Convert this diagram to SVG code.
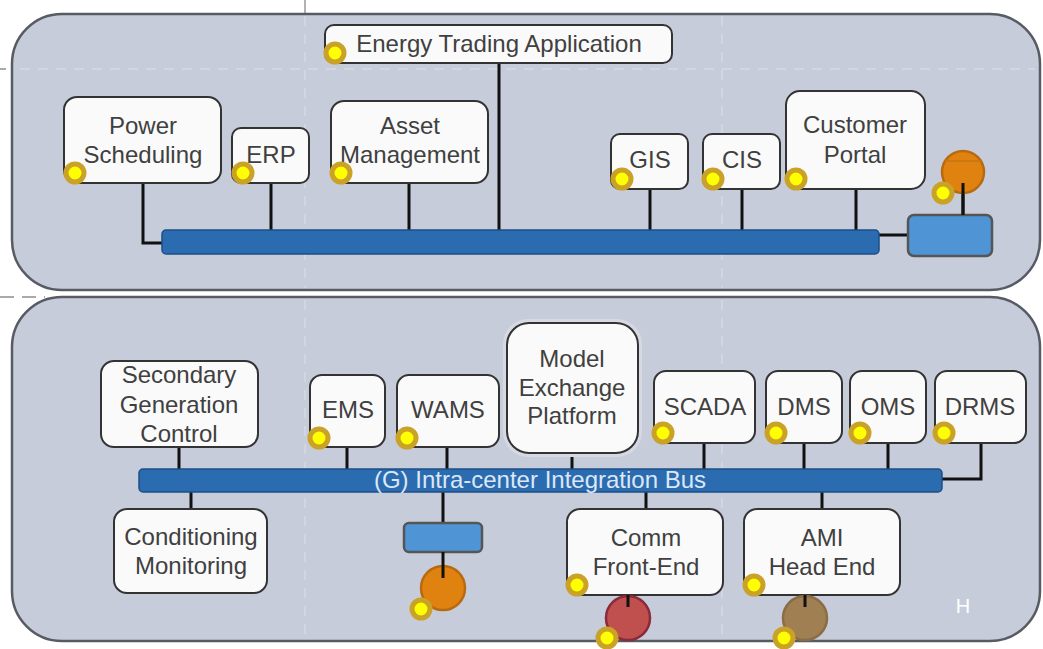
<svg xmlns="http://www.w3.org/2000/svg" width="1043" height="649" viewBox="0 0 1043 649">
<style>
.panel{fill:#c7ccda;stroke:#575b63;stroke-width:2.5}
.grid{stroke:#d5d9e3;stroke-width:1.5;stroke-dasharray:10 8;fill:none}
.node{fill:#fafafa;stroke:#333;stroke-width:2}
.t{font-family:"Liberation Sans",Arial,sans-serif;font-size:24px;fill:#404040;text-anchor:middle}
.bus{fill:#2b6cb0;stroke:#1d4f87;stroke-width:1.5}
.box{fill:#4f95d6;stroke:#555;stroke-width:2.5}
.wire{stroke:#111;stroke-width:3;fill:none}
.dot{fill:#ffff00;stroke:#c9a227;stroke-width:5}
</style>
<rect width="1043" height="649" fill="#ffffff"/>
<line x1="305" y1="0" x2="305" y2="14" stroke="#999" stroke-width="1.5"/>
<line x1="0" y1="297" x2="45" y2="297" stroke="#aaa" stroke-width="2" stroke-dasharray="14 8"/>
<line x1="0" y1="69" x2="6" y2="69" stroke="#aaa" stroke-width="2"/>
<g id="panel-top">
<rect class="panel" x="12" y="14" width="1028" height="276" rx="50"/>
<line class="grid" x1="20" y1="69" x2="1035" y2="69"/>
<line class="grid" x1="305" y1="16" x2="305" y2="288"/>
<line class="grid" x1="722" y1="16" x2="722" y2="288"/>
</g>
<g id="panel-bottom">
<rect class="panel" x="12" y="297" width="1028" height="344" rx="50"/>
<line class="grid" x1="305" y1="300" x2="305" y2="638"/>
<line class="grid" x1="722" y1="300" x2="722" y2="638"/>
</g>
<g id="connectors">
<path class="wire" d="M143 183V243H164"/>
<line class="wire" x1="271" y1="183" x2="271" y2="231"/>
<line class="wire" x1="409" y1="183" x2="409" y2="231"/>
<line class="wire" x1="499" y1="63" x2="499" y2="231"/>
<line class="wire" x1="650" y1="189" x2="650" y2="231"/>
<line class="wire" x1="742" y1="189" x2="742" y2="231"/>
<line class="wire" x1="856" y1="189" x2="856" y2="231"/>
<line class="wire" x1="878" y1="235" x2="908" y2="235"/>
<line class="wire" x1="963" y1="183" x2="963" y2="215"/>
<line class="wire" x1="179" y1="447" x2="179" y2="470"/>
<line class="wire" x1="191" y1="491" x2="191" y2="509"/>
<line class="wire" x1="347" y1="447" x2="347" y2="470"/>
<line class="wire" x1="447" y1="447" x2="447" y2="470"/>
<line class="wire" x1="572" y1="453" x2="572" y2="470"/>
<line class="wire" x1="704" y1="443" x2="704" y2="470"/>
<line class="wire" x1="804" y1="443" x2="804" y2="470"/>
<line class="wire" x1="888" y1="443" x2="888" y2="470"/>
<path class="wire" d="M981 443V479H941"/>
<line class="wire" x1="443" y1="491" x2="443" y2="523"/>
<line class="wire" x1="646" y1="491" x2="646" y2="509"/>
<line class="wire" x1="822" y1="491" x2="822" y2="509"/>
</g>
<g id="bus-top"><rect class="bus" x="162" y="230" width="717" height="24" rx="4"/></g>
<g id="node-energy-trading"><rect class="node" x="325" y="25" width="347" height="38" rx="9"/><text class="t" x="499" y="52">Energy Trading Application</text><circle class="dot" cx="335" cy="53" r="9"/></g>
<g id="node-power-scheduling"><rect class="node" x="64" y="97" width="157" height="86" rx="13"/><text class="t" x="143" y="134">Power</text><text class="t" x="143" y="163">Scheduling</text><circle class="dot" cx="75" cy="173" r="9"/></g>
<g id="node-erp"><rect class="node" x="232" y="128" width="77" height="55" rx="9"/><text class="t" x="271" y="163">ERP</text><circle class="dot" cx="243" cy="173" r="9"/></g>
<g id="node-asset"><rect class="node" x="331" y="101" width="157" height="82" rx="13"/><text class="t" x="410" y="134">Asset</text><text class="t" x="410" y="163">Management</text><circle class="dot" cx="341" cy="173" r="9"/></g>
<g id="node-gis"><rect class="node" x="611" y="134" width="77" height="55" rx="9"/><text class="t" x="650" y="168">GIS</text><circle class="dot" cx="622" cy="179" r="9"/></g>
<g id="node-cis"><rect class="node" x="703" y="134" width="77" height="55" rx="9"/><text class="t" x="742" y="168">CIS</text><circle class="dot" cx="713" cy="179" r="9"/></g>
<g id="node-customer-portal"><rect class="node" x="786" y="91" width="139" height="98" rx="14"/><text class="t" x="855" y="133">Customer</text><text class="t" x="855" y="163">Portal</text><circle class="dot" cx="796" cy="179" r="9"/></g>
<g id="node-top-gateway"><rect class="box" x="908" y="215" width="84" height="41" rx="6"/></g>
<g id="node-top-orange"><circle cx="963" cy="172" r="21" fill="#e0820f" stroke="#b86a10" stroke-width="2.5"/><line x1="945" y1="161" x2="981" y2="161" stroke="#c87512" stroke-width="1.5"/><line class="wire" x1="963" y1="183" x2="963" y2="215"/><circle class="dot" cx="943" cy="193" r="9"/></g>
<g id="bus-bottom"><rect class="bus" x="139" y="469" width="803" height="23" rx="4"/><text x="540" y="488" font-family="'Liberation Sans',Arial,sans-serif" font-size="24" fill="#dde7f5" text-anchor="middle">(G) Intra-center Integration Bus</text></g>
<g id="node-sgc"><rect class="node" x="101" y="361" width="157" height="86" rx="13"/><text class="t" x="179" y="383">Secondary</text><text class="t" x="179" y="413">Generation</text><text class="t" x="179" y="442">Control</text></g>
<g id="node-cm"><rect class="node" x="114" y="509" width="153" height="84" rx="13"/><text class="t" x="191" y="545">Conditioning</text><text class="t" x="191" y="574">Monitoring</text></g>
<g id="node-ems"><rect class="node" x="310" y="375" width="75" height="72" rx="12"/><text class="t" x="348" y="418">EMS</text><circle class="dot" cx="319" cy="438" r="9"/></g>
<g id="node-wams"><rect class="node" x="397" y="375" width="102" height="72" rx="12"/><text class="t" x="448" y="418">WAMS</text><circle class="dot" cx="407" cy="438" r="9"/></g>
<g id="node-mep"><rect x="503" y="319" width="139" height="138" rx="25" fill="#d6d9e2"/><rect class="node" x="507" y="323" width="131" height="130" rx="22"/><text class="t" x="572" y="367">Model</text><text class="t" x="572" y="396">Exchange</text><text class="t" x="572" y="424">Platform</text></g>
<g id="node-scada"><rect class="node" x="654" y="371" width="101" height="72" rx="12"/><text class="t" x="705" y="415">SCADA</text><circle class="dot" cx="663" cy="433" r="9"/></g>
<g id="node-dms"><rect class="node" x="766" y="371" width="76" height="72" rx="12"/><text class="t" x="804" y="415">DMS</text><circle class="dot" cx="776" cy="433" r="9"/></g>
<g id="node-oms"><rect class="node" x="850" y="371" width="76" height="72" rx="12"/><text class="t" x="888" y="415">OMS</text><circle class="dot" cx="860" cy="433" r="9"/></g>
<g id="node-drms"><rect class="node" x="935" y="371" width="91" height="72" rx="12"/><text class="t" x="980" y="415">DRMS</text><circle class="dot" cx="944" cy="433" r="9"/></g>
<g id="node-wams-gateway"><rect class="box" x="404" y="523" width="78" height="29" rx="5"/></g>
<g id="node-wams-orange"><circle cx="443" cy="588" r="22" fill="#e0820f" stroke="#b86a10" stroke-width="2.5"/><line class="wire" x1="443" y1="552" x2="443" y2="578"/><circle class="dot" cx="421" cy="609" r="9"/></g>
<g id="node-comm"><rect class="node" x="567" y="509" width="156" height="86" rx="13"/><text class="t" x="646" y="546">Comm</text><text class="t" x="646" y="575">Front-End</text><circle class="dot" cx="577" cy="585" r="9"/></g>
<g id="node-comm-red"><circle cx="628" cy="618" r="22" fill="#c0504d" stroke="#8b2a3a" stroke-width="2.5"/><line class="wire" x1="628" y1="595" x2="628" y2="607"/><circle class="dot" cx="607" cy="638" r="9"/></g>
<g id="node-ami"><rect class="node" x="744" y="509" width="156" height="86" rx="13"/><text class="t" x="822" y="546">AMI</text><text class="t" x="822" y="575">Head End</text><circle class="dot" cx="754" cy="585" r="9"/></g>
<g id="node-ami-brown"><circle cx="805" cy="618" r="22" fill="#a08052" stroke="#8a6d45" stroke-width="2.5"/><line class="wire" x1="805" y1="595" x2="805" y2="607"/><circle class="dot" cx="784" cy="638" r="9"/></g>
<text x="963" y="613" font-family="'Liberation Sans',Arial,sans-serif" font-size="20" fill="#ffffff" text-anchor="middle">H</text>
</svg>
